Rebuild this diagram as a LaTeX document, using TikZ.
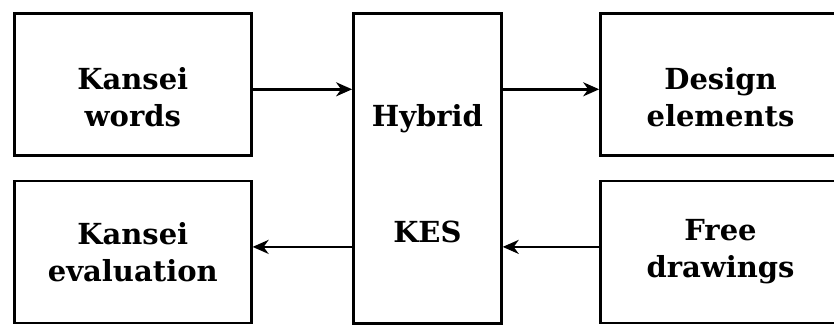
\documentclass[tikz,border=0pt]{standalone}
\usepackage{fontspec}
\newfontfamily\diagfont{DejaVu Serif}
\usetikzlibrary{arrows.meta, positioning}
\tikzset{
    box/.style={
        rectangle, draw=black, line width=2.6pt,
        minimum width=237pt, minimum height=142pt,
        font=\diagfont\bfseries\fontsize{29}{37}\selectfont, align=center
    },
    toprow/.style={text height=84pt},
    arrow/.style={-{Stealth[length=16pt, width=14pt, inset=5pt]}, line width=2.4pt}
}
\begin{document}
\begin{tikzpicture}

    % Frame of the page
    \clip (0,0) rectangle (834pt,-327pt);

    % Left column
    \node[box, toprow, anchor=north west] at (13pt,-12pt) (words) {Kansei\\words};
    \node[box, below=23pt of words] (evaluation) {Kansei\\evaluation};

    % Middle
    \node[box, minimum width=148pt, minimum height=310pt, text height=149pt,
          right=99.5pt of words.north east, anchor=north west] (hub) {Hybrid\\[79pt]KES};

    % Right column
    \node[box, toprow, minimum width=240pt,
          right=96.5pt of hub.north east, anchor=north west] (design) {Design\\elements};
    \node[box, minimum width=240pt, below=23pt of design] (free) {Free\\drawings};

    % Arrows
    \draw[arrow] ([yshift=-5pt]words.east) -- ([yshift=-5pt]words.east -| hub.west);
    \draw[arrow] ([yshift=-5pt]hub.east |- design.west) -- ([yshift=-5pt]design.west);
    \draw[arrow] ([yshift=5pt]hub.west |- evaluation.east) -- ([yshift=5pt]evaluation.east);
    \draw[arrow] ([yshift=5pt]free.west) -- ([yshift=5pt]free.west -| hub.east);

\end{tikzpicture}
\end{document}
